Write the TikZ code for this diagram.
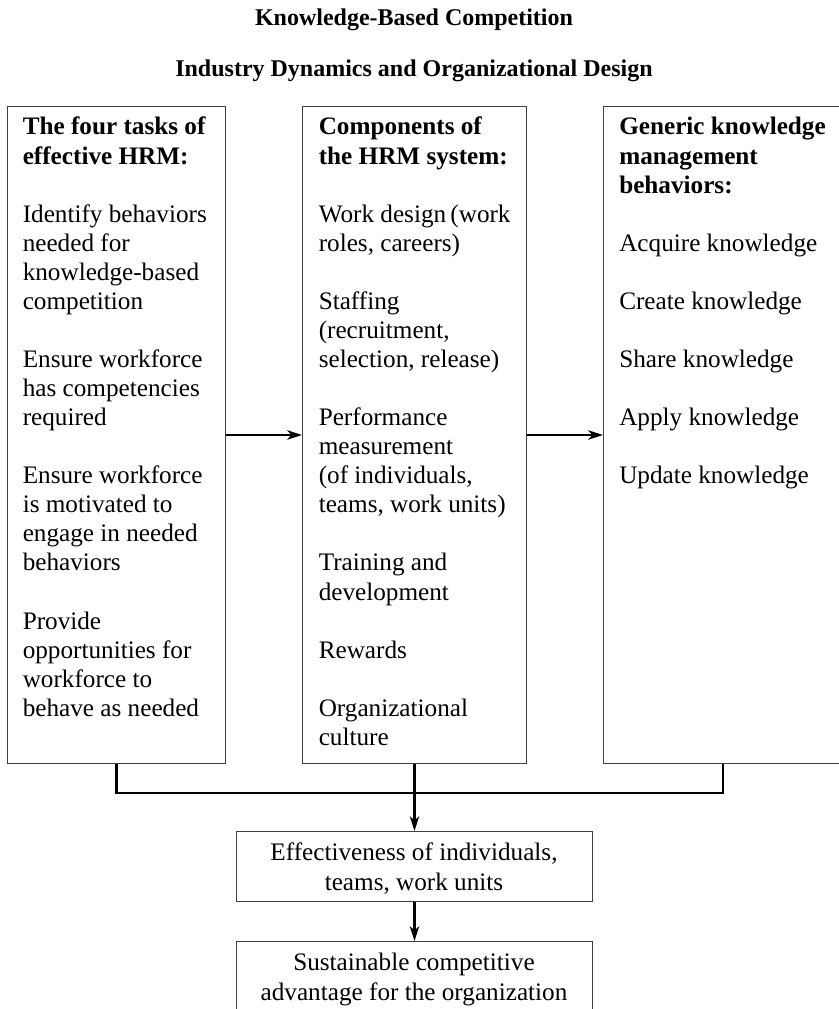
\documentclass[tikz,border=0pt]{standalone}
\usepackage{fontspec}
\setmainfont{Liberation Serif}
\usetikzlibrary{arrows.meta}
\newcommand{\bodyfnt}{\fontsize{18.9}{21.8}\selectfont}
\newcommand{\botfnt}{\fontsize{18.9}{22.5}\selectfont}
\begin{document}
\begin{tikzpicture}[x=0.75pt,y=-0.75pt,
  box/.style={draw=black!75,line width=0.75pt,inner sep=0pt,anchor=north west},
  txt/.style={inner sep=0pt,anchor=base west},
  ctxt/.style={inner sep=0pt,anchor=base},
  ttl/.style={inner sep=0pt,anchor=base,font=\fontsize{18}{21}\selectfont\bfseries},
  conn/.style={line width=1.6pt,black},
  arr/.style={conn,-{Stealth[length=11pt,width=7pt,inset=3pt]}}]
\useasboundingbox (0,0) rectangle (838,1009);
% titles
\node[ttl] (T1) at (414,26) {Knowledge-Based Competition};
\node[ttl] (T2) at (414,77) {Industry Dynamics and Organizational Design};
% boxes
\node[box,minimum width=163.5pt,minimum height=492.75pt] (L) at (7,106) {};
\node[box,minimum width=168pt,minimum height=492.75pt] (M) at (302,106) {};
\node[box,minimum width=179.25pt,minimum height=492.75pt] (R) at (603,106) {};
\node[box,minimum width=267pt,minimum height=52.5pt] (E) at (236,831) {};
\node[box,minimum width=267pt,minimum height=66.75pt] (S) at (236,941) {};
% texts
\node[txt] (Lt) at (22.5,135) {\parbox[t]{225pt}{\bodyfnt\raggedright\setlength{\parskip}{21.8pt}%
\textbf{The four tasks of\\effective HRM:}\par
Identify behaviors\\needed for\\knowledge-based\\competition\par
Ensure workforce\\has competencies\\required\par
Ensure workforce\\is motivated to\\engage in needed\\behaviors\par
Provide\\opportunities for\\workforce to\\behave as needed}};
\node[txt] (Mt) at (318.5,135) {\parbox[t]{225pt}{\bodyfnt\raggedright\setlength{\parskip}{21.8pt}%
\textbf{Components of\\the HRM system:}\par
Work design\,(work\\roles, careers)\par
Staffing\\(recruitment,\\selection, release)\par
Performance\\measurement\\(of individuals,\\teams, work units)\par
Training and\\development\par
Rewards\par
Organizational\\culture}};
\node[txt] (Rt) at (619,135) {\parbox[t]{225pt}{\bodyfnt\raggedright\setlength{\parskip}{21.8pt}%
\textbf{Generic knowledge\\management\\behaviors:}\par
Acquire knowledge\par
Create knowledge\par
Share knowledge\par
Apply knowledge\par
Update knowledge}};
\node[ctxt] (Et) at (414,860) {\parbox[t]{300pt}{\botfnt\centering Effectiveness of individuals,\\teams, work units}};
\node[ctxt] (St) at (414,970) {\parbox[t]{300pt}{\botfnt\centering Sustainable competitive\\advantage for the organization}};
% connectors
\coordinate (J) at (414,793);
\draw[arr] (L.east) -- (M.west);
\draw[arr] (M.east) -- (R.west);
\draw[conn] (L.south) |- (J) -| (R.south);
\draw[arr] (M.south) -- (E.north);
\draw[arr] (E.south) -- (S.north);
\end{tikzpicture}
\end{document}
